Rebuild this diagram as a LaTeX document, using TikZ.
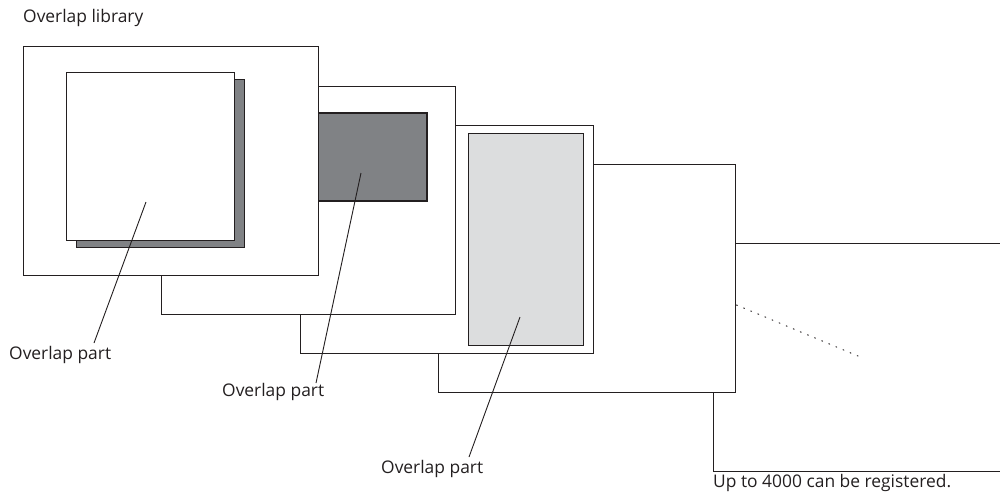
\documentclass[tikz,border=0pt]{standalone}
\usepackage{fontspec}
\setmainfont{Open Sans}
\definecolor{darkfill}{RGB}{128,130,133}
\definecolor{lightfill}{RGB}{220,221,222}
\definecolor{edge}{RGB}{35,31,32}
\begin{document}
\begin{tikzpicture}[x=1pt,y=-1pt,
  screen/.style={draw=edge,fill=white,line width=1pt},
  leader/.style={draw=edge,line width=0.9pt},
  lbl/.style={font=\fontsize{17.4}{20}\selectfont,text=edge,inner sep=0pt,anchor=base west}]
\useasboundingbox (0,0) rectangle (1000,499);
% screen 5 (back, runs off the right edge)
\draw[screen] (1001,243) -- (713.5,243) -- (713.5,471) -- (1001,471);
% screen 4
\draw[screen] (438,164) rectangle (735.5,392.5);
\draw[edge,line width=1pt,line cap=round,dash pattern=on 0.9pt off 6.8pt] (736.5,305) -- (858,356);
% screen 3
\draw[screen] (300,125) rectangle (593,353);
\draw[draw=edge,fill=lightfill,line width=1pt] (468,133) rectangle (583,345);
% screen 2
\draw[screen] (161,86) rectangle (455.5,314);
\draw[draw=edge,fill=darkfill,line width=2pt] (200,113) rectangle (427,201);
% screen 1 (front)
\draw[screen] (23,46) rectangle (318,275);
\draw[draw=edge,fill=darkfill,line width=1pt] (76,79.5) rectangle (244,247);
\draw[draw=edge,fill=white,line width=1pt] (66.5,72) rectangle (234.5,240);
% labels
\node[lbl] (title) at (23,22.5) {Overlap library};
\node[lbl] (p1) at (9,359) {Overlap part};
\node[lbl] (p2) at (222,396.5) {Overlap part};
\node[lbl] (p3) at (381,473) {Overlap part};
\node[lbl] (reg) at (713,487) {Up to 4000 can be registered.};
% leader lines
\coordinate (a1) at (146,202);
\coordinate (b1) at (94,343);
\coordinate (a2) at (361,173);
\coordinate (b2) at (316,383);
\coordinate (a3) at (520,317);
\coordinate (b3) at (469,457);
\draw[leader] (a1) -- (b1);
\draw[leader] (a2) -- (b2);
\draw[leader] (a3) -- (b3);
\end{tikzpicture}
\end{document}
